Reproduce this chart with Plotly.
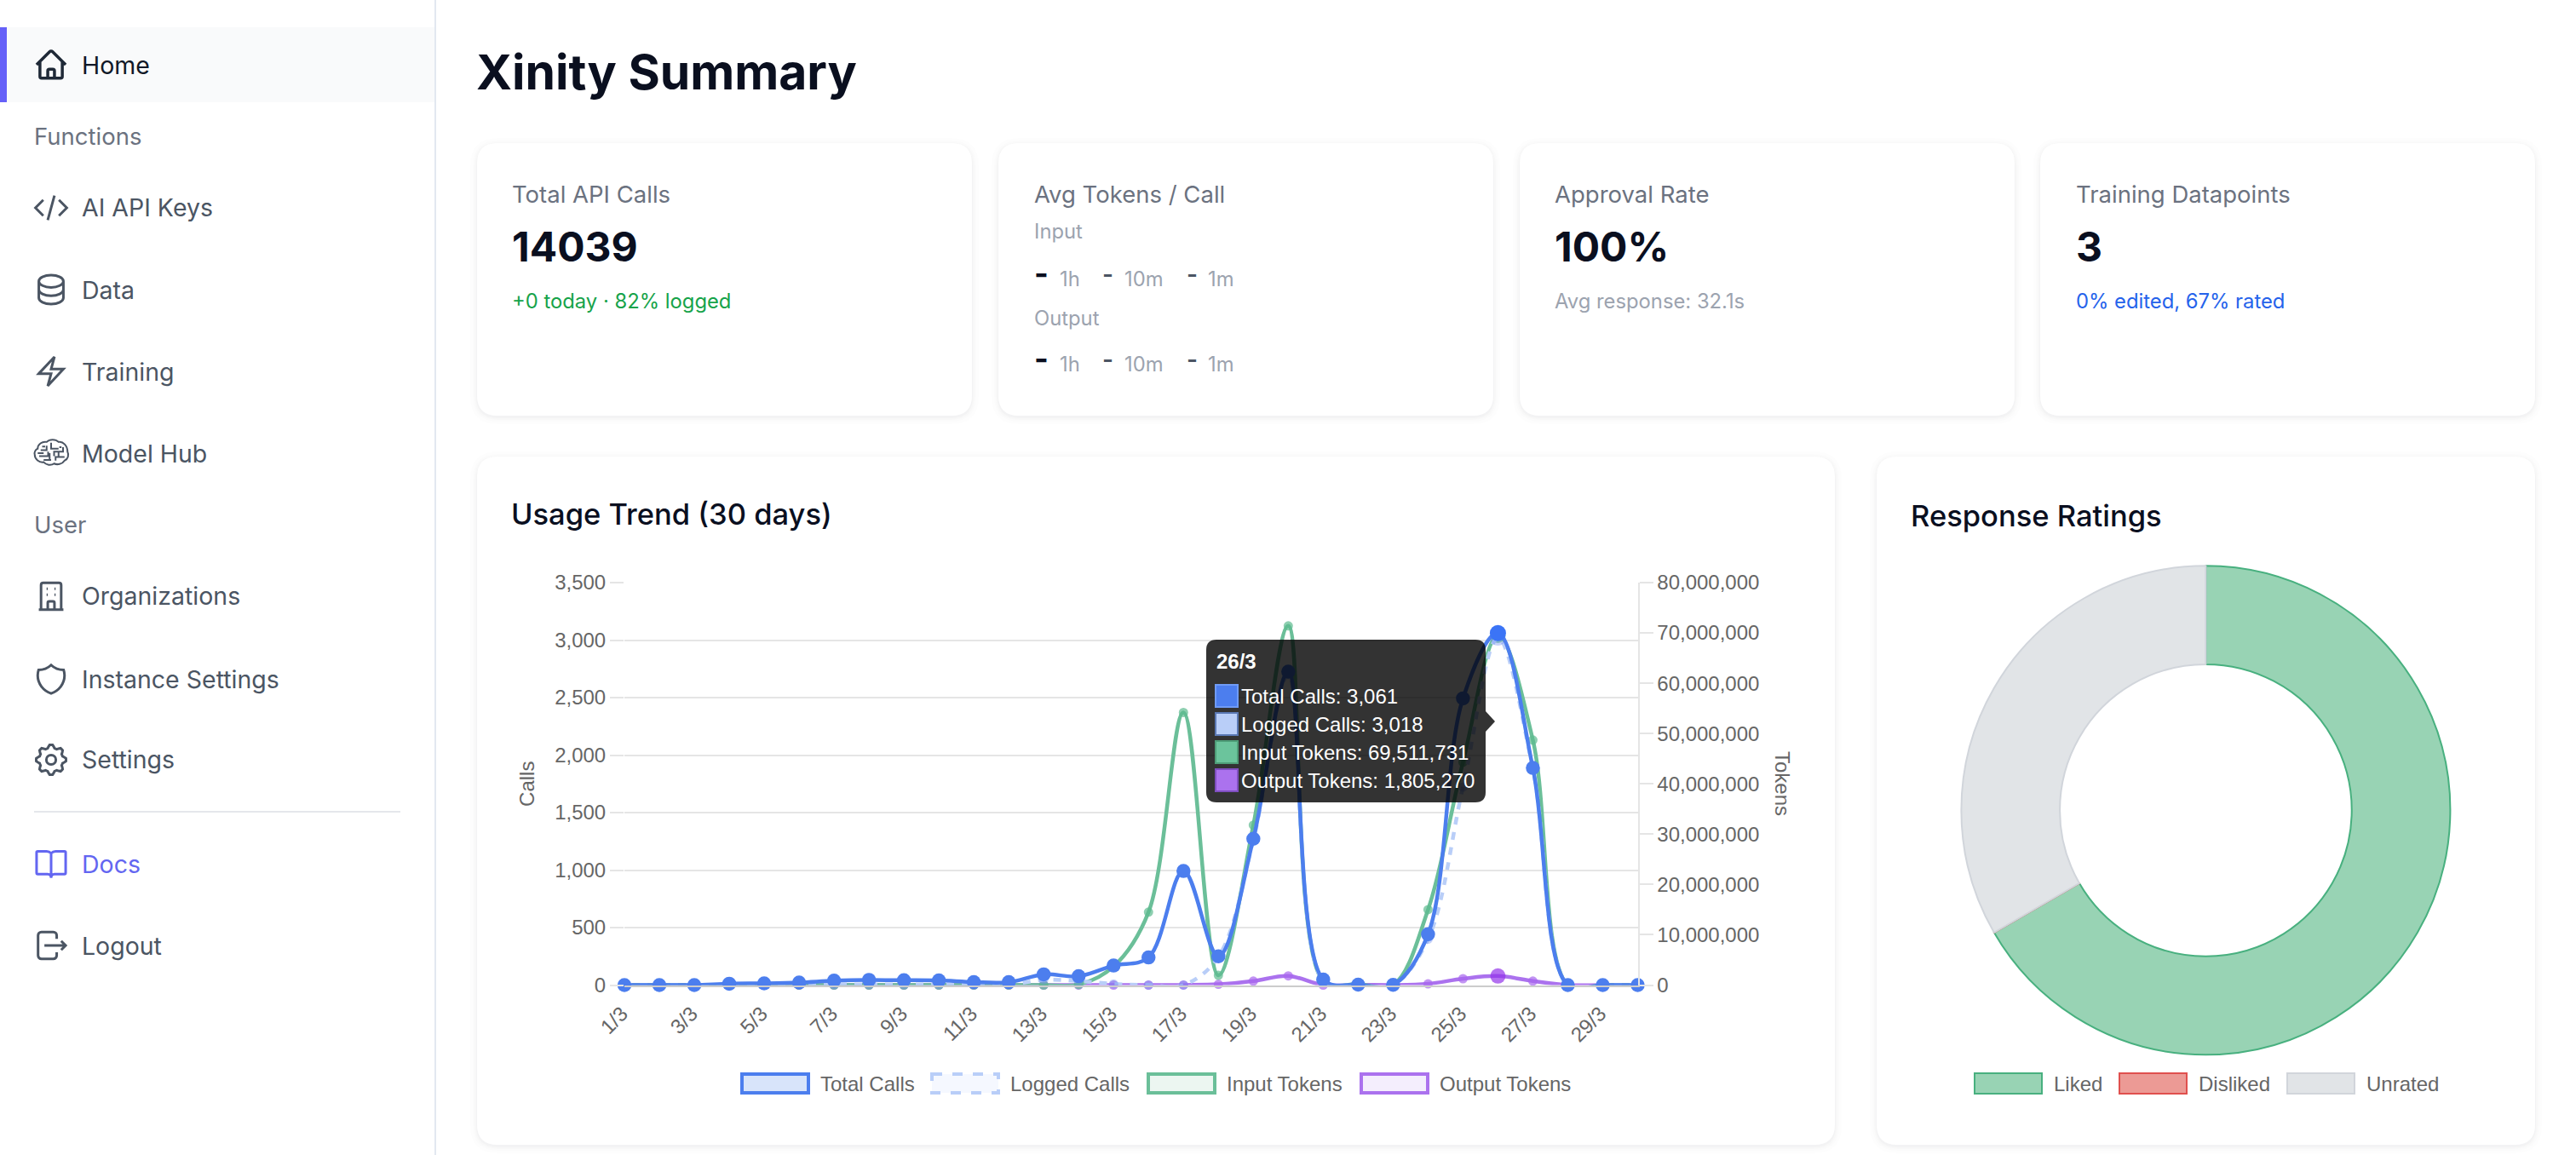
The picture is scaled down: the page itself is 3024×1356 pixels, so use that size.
import math
import re
import plotly.graph_objects as go

W = 3024
H = 1356

days = [f"{d}/3" for d in range(1, 31)]
tick_days = days[::2]
total_calls = [0, 0, 0, 12, 15, 22, 38, 45, 42, 40, 26, 25, 93, 77, 170, 240, 992, 250, 1272, 2726, 48, 4, 2, 442, 2493, 3061, 1888, 0, 0, 0]
logged_calls = [0, 0, 0, 0, 0, 2, 5, 6, 5, 5, 3, 3, 45, 35, 10, 0, 0, 245, 1260, 2700, 40, 4, 2, 400, 1722, 3018, 1880, 0, 0, 0]
input_tokens = [0, 0, 0, 0, 0, 0, 0, 0, 0, 0, 0, 0, 0, 100000, 3700000, 14500000, 54200000, 1940000, 31800000, 71400000, 800000, 200000, 0, 15000000, 44300000, 69511731, 48700000, 0, 0, 0]
output_tokens = [0, 0, 0, 0, 0, 0, 0, 0, 0, 0, 0, 0, 0, 0, 0, 0, 20000, 150000, 800000, 1830000, 0, 50000, 0, 250000, 1270000, 1805270, 800000, 0, 0, 0]
hover_day = "26/3"

rating_labels = ["Liked", "Disliked", "Unrated"]
rating_values = [2, 0, 1]

BLUE = "#4C7EEE"
LIGHT_BLUE = "#B9CEF8"
GREEN = "#6BBF99"
PURPLE = "#AB72EE"
INTER = "Inter"
HELV = "Liberation Sans"


def px(x):
    return x / W


def py(y):
    return 1 - y / H


shapes = []
notes = []


def txt(x, y, s, size, color, family=INTER, weight=400, anchor="left", angle=0):
    # annotations sit a little inside their box, pull left aligned text back
    shift = -3 if anchor == "left" else 0
    notes.append(dict(x=px(x + shift), y=py(y), xref="paper", yref="paper", text=s, showarrow=False,
                      xanchor=anchor, yanchor="middle", textangle=angle,
                      font=dict(size=size, color=color, family=family, weight=weight)))


def rect(x0, y0, x1, y1, fill, line=None, lw=0, layer="below", dash=None):
    shapes.append(dict(type="rect", xref="paper", yref="paper", x0=px(x0), x1=px(x1), y0=py(y0), y1=py(y1),
                       fillcolor=fill, line=dict(color=line or fill, width=lw, dash=dash or "solid"), layer=layer))


def rrect_path(x0, y0, x1, y1, r):
    return (f"M {px(x0 + r)} {py(y0)} L {px(x1 - r)} {py(y0)} Q {px(x1)} {py(y0)} {px(x1)} {py(y0 + r)} "
            f"L {px(x1)} {py(y1 - r)} Q {px(x1)} {py(y1)} {px(x1 - r)} {py(y1)} "
            f"L {px(x0 + r)} {py(y1)} Q {px(x0)} {py(y1)} {px(x0)} {py(y1 - r)} "
            f"L {px(x0)} {py(y0 + r)} Q {px(x0)} {py(y0)} {px(x0 + r)} {py(y0)} Z")


def card(x0, y0, x1, y1):
    for d, a in ((8, 0.006), (5, 0.008), (3, 0.012), (1, 0.02)):
        shapes.append(dict(type="path", xref="paper", yref="paper", layer="below",
                           path=rrect_path(x0 - d, y0 - d + 2, x1 + d, y1 + d + 2, 24 + d),
                           fillcolor=f"rgba(15,23,42,{a})", line=dict(width=0)))
    shapes.append(dict(type="path", xref="paper", yref="paper", layer="below",
                       path=rrect_path(x0, y0, x1, y1, 24), fillcolor="white", line=dict(width=0)))


def icon(d, cy, color, lw=3.0, cx=60, s=1.75):
    # icon paths are on a 24 unit grid
    out = []
    cur = [0, 0]
    for cmd, args in re.findall(r"([MLHVCQZ])([^MLHVCQZ]*)", d):
        nums = [float(n) for n in args.split()]
        if cmd == "Z":
            out.append("Z")
            continue
        if cmd == "H":
            cur = [nums[0], cur[1]]
            nums = cur[:]
            cmd = "L"
        elif cmd == "V":
            cur = [cur[0], nums[0]]
            nums = cur[:]
            cmd = "L"
        else:
            cur = nums[-2:]
        pts = []
        for i in range(0, len(nums), 2):
            pts.append(f"{px(cx - 12 * s + nums[i] * s):.6f} {py(cy - 12 * s + nums[i + 1] * s):.6f}")
        out.append(cmd + " " + " ".join(pts))
    shapes.append(dict(type="path", xref="paper", yref="paper", layer="below", path=" ".join(out),
                       line=dict(color=color, width=lw), fillcolor="rgba(0,0,0,0)"))


def gear_path():
    pts = []
    for i in range(64):
        a = 2 * math.pi * i / 64
        r = 9.0 + 1.0 * max(-1, min(1, 1.9 * math.cos(8 * a)))
        pts.append((12 + r * math.sin(a), 12 - r * math.cos(a)))
    p = "M" + " ".join(f"{v:.3f}" for v in pts[0])
    for q in pts[1:]:
        p += " L" + " ".join(f"{v:.3f}" for v in q)
    return p + " Z M15.2 12 C15.2 13.8 13.8 15.2 12 15.2 C10.2 15.2 8.8 13.8 8.8 12 C8.8 10.2 10.2 8.8 12 8.8 C13.8 8.8 15.2 10.2 15.2 12 Z"


ICON_HOME = ("M2.25 12 L11 3.25 C11.5 2.75 12.5 2.75 13 3.25 L21.75 12 M4.5 9.75 V19.875 C4.5 20.5 5 21 5.625 21 H9.75 "
             "V16.125 C9.75 15.5 10.25 15 10.875 15 H13.125 C13.75 15 14.25 15.5 14.25 16.125 V21 H18.375 C19 21 19.5 20.5 19.5 19.875 V9.75 "
             "M8.25 21 H15.75")
ICON_CODE = "M17.25 6.75 L22.5 12 L17.25 17.25 M6.75 17.25 L1.5 12 L6.75 6.75 M14.25 3.75 L9.75 20.25"
ICON_DB = ("M20.25 6.375 C20.25 8.653 16.556 10.5 12 10.5 C7.444 10.5 3.75 8.653 3.75 6.375 C3.75 4.097 7.444 2.25 12 2.25 "
           "C16.556 2.25 20.25 4.097 20.25 6.375 Z M20.25 6.375 V17.625 C20.25 19.903 16.556 21.75 12 21.75 C7.444 21.75 3.75 19.903 3.75 17.625 V6.375 "
           "M20.25 12 C20.25 14.278 16.556 16.125 12 16.125 C7.444 16.125 3.75 14.278 3.75 12")
ICON_BOLT = "M3.75 13.5 L14.25 2.25 L12 10.5 H20.25 L9.75 21.75 L12 13.5 Z"
ICON_BRAIN = ("M3 9 C3 6 6 4 9 4.5 C11 2.5 15 2.5 17 4.5 C20 4 23 7 23 11 C24 13 23.5 16 21 17 C19.5 19.5 16 20 14 19 "
              "C12 20.5 8.5 20 7 18 C4 18.5 1 16 1 13 C0.5 11.5 1.5 9.5 3 9 Z "
              "M5 10 H9 V7 M12 5 V9 H17 M20 8 V11 H14 V14 M4 14 H10 V11 M7 16.5 H12 M15 17 V14.5 H21 M17.5 8 H19 "
              "M3 12 H7 M11 12 V16.5 M17 14.5 V11 M8 7.5 H6")
ICON_BUILDING = ("M3.75 21 H20.25 M5.25 21 V4.5 C5.25 3.6 5.9 3 6.75 3 H17.25 C18.1 3 18.75 3.6 18.75 4.5 V21 "
                 "M9.75 21 V16.5 C9.75 15.9 10.2 15.5 10.75 15.5 H13.25 C13.8 15.5 14.25 15.9 14.25 16.5 V21 "
                 "M9 7 H9.75 M14.25 7 H15 M9 11 H9.75 M14.25 11 H15")
ICON_SHIELD = ("M12 2.7 C9.7 4.9 6.6 6 3.6 6 C3.2 7.2 3 8.5 3 9.75 C3 15.3 6.8 20 12 21.75 C17.2 20 21 15.3 21 9.75 "
               "C21 8.5 20.8 7.2 20.4 6 C17.4 6 14.3 4.9 12 2.7 Z")
ICON_BOOK = ("M12 5 C11 4 10 3.75 9 3.75 H3 C2.4 3.75 2.25 4 2.25 4.5 V18 C2.25 18.6 2.6 19 3 19 H9.75 C10.8 19 12 20 12 21.5 "
             "C12 20 13.2 19 14.25 19 H21 C21.4 19 21.75 18.6 21.75 18 V4.5 C21.75 4 21.6 3.75 21 3.75 H15 C14 3.75 13 4 12 5 V21")
ICON_LOGOUT = ("M15.75 7.5 V5.25 C15.75 4 14.75 3 13.5 3 H5.5 C4.25 3 3.25 4 3.25 5.25 V18.75 C3.25 20 4.25 21 5.5 21 H13.5 "
               "C14.75 21 15.75 20 15.75 18.75 V16.5 M7.5 12 H21.75 M18.75 9 L21.75 12 L18.75 15")

# sidebar
rect(510, 0, 512, H, "#E2E8F0")
rect(0, 32, 510, 120, "#F9FAFB")
rect(0, 32, 8, 120, "#6560F8")
rect(40, 952, 470, 954, "#E5E7EB")

NAV = "#4B5563"
NAV_SIZE = 28.5
txt(97, 76, "Home", NAV_SIZE, "#111827", weight=400)
txt(41, 160, "Functions", 27.5, "#6B7280")
txt(97, 244, "AI API Keys", NAV_SIZE, NAV)
txt(97, 340, "Data", NAV_SIZE, NAV)
txt(97, 436, "Training", NAV_SIZE, NAV)
txt(97, 532, "Model Hub", NAV_SIZE, NAV)
txt(41, 616, "User", 27.5, "#6B7280")
txt(97, 700, "Organizations", NAV_SIZE, NAV)
txt(97, 797, "Instance Settings", NAV_SIZE, NAV)
txt(97, 892, "Settings", NAV_SIZE, NAV)
txt(97, 1014, "Docs", NAV_SIZE, "#6366F1")
txt(97, 1110, "Logout", NAV_SIZE, NAV)

icon(ICON_HOME, 76, "#1F2937", 3.5)
icon(ICON_CODE, 244, NAV)
icon(ICON_DB, 340, NAV)
icon(ICON_BOLT, 436, NAV)
icon(ICON_BRAIN, 532, NAV, 2.0)
icon(ICON_BUILDING, 700, NAV)
icon(ICON_SHIELD, 797, NAV)
icon(gear_path(), 892, NAV)
icon(ICON_BOOK, 1014, "#6366F1")
icon(ICON_LOGOUT, 1110, NAV)

# heading and stat cards
INK = "#0A0F1F"
txt(560, 85, "Xinity Summary", 57, INK, weight=700)

for x0 in (560, 1172, 1784, 2395):
    card(x0, 168, x0 + 581, 488)
card(560, 536, 2154, 1344)
card(2203, 536, 2976, 1344)

MUTED = "#6B7280"
SOFT = "#9CA3AF"
LABEL = 27.5
SMALL = 23.8
txt(602, 228, "Total API Calls", LABEL, MUTED)
txt(602, 289, "14039", 48, INK, weight=700)
txt(602, 353, "+0 today · 82% logged", SMALL, "#16A34A")

txt(1215, 228, "Avg Tokens / Call", LABEL, MUTED)
for label, y in (("Input", 272), ("Output", 373)):
    txt(1215, y, label, SMALL, SOFT)
for y in (327, 427):
    txt(1215, y - 6, "-", 36, INK, weight=700)
    txt(1245, y, "1h", SMALL, SOFT)
    txt(1295, y - 5, "-", 28, NAV, weight=600)
    txt(1321, y, "10m", SMALL, SOFT)
    txt(1394, y - 5, "-", 28, NAV, weight=600)
    txt(1419, y, "1m", SMALL, SOFT)

txt(1826, 228, "Approval Rate", LABEL, MUTED)
txt(1826, 289, "100%", 48, INK, weight=700)
txt(1826, 353, "Avg response: 32.1s", SMALL, SOFT)

txt(2438, 228, "Training Datapoints", LABEL, MUTED)
txt(2438, 289, "3", 48, INK, weight=700)
txt(2438, 353, "0% edited, 67% rated", SMALL, "#2563EB")

txt(601, 604, "Usage Trend (30 days)", 34.5, INK, weight=500)
txt(2244, 605, "Response Ratings", 34.5, INK, weight=500)

# chart legend
LEGEND_TEXT = "#666666"
for x0, name, fill, line, dash in (
    (869, "Total Calls", "#D8E4FA", BLUE, None),
    (1092, "Logged Calls", "#F5F8FF", LIGHT_BLUE, "dash"),
    (1346, "Input Tokens", "#ECF6F1", GREEN, None),
    (1596, "Output Tokens", "#F4EEFD", PURPLE, None),
):
    rect(x0 + 2, 1261, x0 + 80, 1283, fill, line, 4, dash=dash)
    txt(x0 + 95, 1272, name, 24, LEGEND_TEXT, HELV)

# donut legend
for x0, name, fill, line in (
    (2317, rating_labels[0], "#98D3B4", "#48B07F"),
    (2487, rating_labels[1], "#EC9A95", "#E0504E"),
    (2684, rating_labels[2], "#E1E4E7", "#D1D5DB"),
):
    rect(x0 + 1, 1260, x0 + 80, 1284, fill, line, 2)
    txt(x0 + 95, 1272, name, 24, LEGEND_TEXT, HELV)

# axis title on the right reads top to bottom
txt(2093, 920, "Tokens", 24, "#666666", HELV, anchor="center", angle=90)

# traces, tokens first so the calls axis sits on top
big = [19 if d == hover_day else 16.5 for d in days]
small = [18 if d == hover_day else 11 for d in days]

fig = go.Figure()
fig.add_trace(go.Scatter(x=days, y=output_tokens, name="Output Tokens", yaxis="y", mode="lines+markers", cliponaxis=False,
                         line=dict(color=PURPLE, width=4.5, shape="spline", smoothing=1.0),
                         marker=dict(size=small, color=["#9333EA" if d == hover_day else "#A866EE" for d in days], line=dict(width=0))))
fig.add_trace(go.Scatter(x=days, y=input_tokens, name="Input Tokens", yaxis="y", mode="lines+markers", cliponaxis=False,
                         line=dict(color=GREEN, width=4.5, shape="spline", smoothing=1.0),
                         marker=dict(size=small, color="#5DBB8F", line=dict(width=0))))
fig.add_trace(go.Scatter(x=days, y=logged_calls, name="Logged Calls", yaxis="y2", mode="lines+markers", cliponaxis=False,
                         line=dict(color=LIGHT_BLUE, width=4.5, shape="spline", smoothing=1.0, dash="9px,9px"),
                         marker=dict(size=small, color="rgba(110,140,240,0.55)", line=dict(width=0))))
fig.add_trace(go.Scatter(x=days, y=total_calls, name="Total Calls", yaxis="y2", mode="lines+markers", cliponaxis=False,
                         line=dict(color=BLUE, width=4.5, shape="spline", smoothing=1.0),
                         marker=dict(size=big, color=[("#3B74F6" if d == hover_day else BLUE) for d in days], opacity=1, line=dict(width=0))))

fig.add_trace(go.Pie(labels=rating_labels, values=rating_values, sort=False, direction="clockwise", rotation=0,
                     hole=0.597, textinfo="none", showlegend=False,
                     domain=dict(x=[px(2589.4 - 287), px(2589.4 + 287)], y=[py(951.3 + 287), py(951.3 - 287)]),
                     marker=dict(colors=["#98D3B4", "#EC9A95", "#E1E4E7"],
                                 line=dict(color=["#48B07F", "#E0504E", "#D1D5DB"], width=2))))

# tooltip drawn over the lines
i = days.index(hover_day)
shapes.append(dict(type="path", xref="paper", yref="paper", layer="above",
                   path=rrect_path(1416, 751, 1744, 942, 12), fillcolor="rgba(0,0,0,0.8)", line=dict(width=0)))
shapes.append(dict(type="path", xref="paper", yref="paper", layer="above",
                   path=f"M {px(1744)} {py(835)} L {px(1755)} {py(847)} L {px(1744)} {py(859)} Z",
                   fillcolor="rgba(0,0,0,0.8)", line=dict(width=0)))
txt(1429, 776, hover_day, 24, "white", HELV, 700)
for y, name, val, fill, line in (
    (817, "Total Calls", total_calls[i], BLUE, "#6F9BF5"),
    (850, "Logged Calls", logged_calls[i], LIGHT_BLUE, "#5A78B4"),
    (883, "Input Tokens", input_tokens[i], "#6BC49C", "#4E9E78"),
    (916, "Output Tokens", output_tokens[i], PURPLE, "#7F4FC0"),
):
    rect(1427, y - 13, 1453, y + 13, fill, line, 2, layer="above")
    txt(1458, y, f"{name}: {val:,}", 24, "white", HELV)

AXIS_FONT = dict(size=24, color="#666666", family=HELV)
GRID = "#E5E5E5"

fig.update_layout(
    width=W,
    height=H,
    margin=dict(l=0, r=0, t=0, b=0),
    paper_bgcolor="white",
    plot_bgcolor="rgba(0,0,0,0)",
    showlegend=False,
    hovermode=False,
    shapes=shapes,
    annotations=notes,
    xaxis=dict(domain=[px(733), px(1922.5)], type="category", range=[0, 29], tickmode="array", tickvals=tick_days,
               ticktext=tick_days, tickangle=-45, tickfont=AXIS_FONT, showgrid=False, zeroline=False, automargin=False,
               showline=True, linecolor="#CCCCCC", linewidth=2, ticks="", ticklabelstandoff=8, ticklabelshift=-3),
    yaxis=dict(domain=[py(1156.5), py(684)], range=[0, 80000000], dtick=10000000, side="right", anchor="x",
               tickformat=",", tickfont=AXIS_FONT, showgrid=False, zeroline=False, showline=True, linecolor=GRID,
               linewidth=2, ticks="outside", ticklen=16, tickwidth=2, tickcolor=GRID, automargin=False),
    yaxis2=dict(range=[0, 3500], dtick=500, side="left", overlaying="y", anchor="x", tickformat=",", automargin=False,
                tickfont=AXIS_FONT, showgrid=True, gridcolor=GRID, gridwidth=2, zeroline=False, showline=False,
                ticks="outside", ticklen=16, tickwidth=2, tickcolor=GRID,
                title=dict(text="Calls", font=AXIS_FONT, standoff=16)),
)

fig.write_html("out.html", config={"displayModeBar": False},
               post_script="document.body.style.margin='0';document.body.style.overflow='hidden';")
